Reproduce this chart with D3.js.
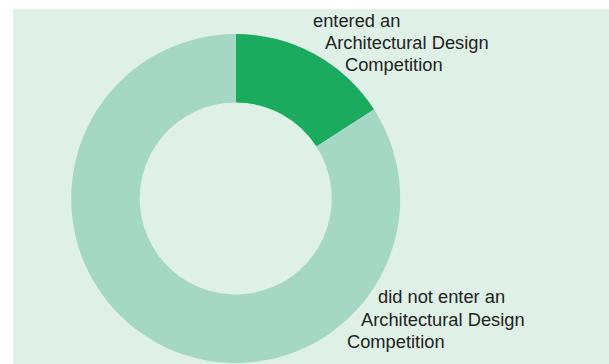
<!DOCTYPE html>
<html><head><meta charset="utf-8">
<script src="https://cdn.jsdelivr.net/npm/d3@7"></script>
<style>html,body{margin:0;padding:0;background:#fff;}svg{display:block;}</style>
</head><body>
<svg id="c" width="609" height="364"></svg>
<script>
const categories = ["entered an Architectural Design Competition", "did not enter an Architectural Design Competition"];
const values = [15.9, 84.1];
const colors = ["#1aab5f", "#a5d8c4"];
const labelLines = [
  ["entered an", "Architectural Design", "Competition"],
  ["did not enter an", "Architectural Design", "Competition"]
];

const svg = d3.select("#c");
svg.append("rect").attr("x", 13).attr("y", 9).attr("width", 596).attr("height", 355).attr("fill", "#dff1e7");

const cx = 235.7, cy = 198.5, outerR = 164.5, innerR = 96;
const pie = d3.pie().sort(null).value(d => d)(values);
const arc = d3.arc().innerRadius(innerR).outerRadius(outerR);
const g = svg.append("g").attr("transform", `translate(${cx},${cy})`);
g.selectAll("path").data(pie).join("path").attr("d", arc).attr("fill", (d, i) => colors[i]);

// labels
const labelPos = [
  {xs: [313, 325, 345], ys: [27, 49, 71]},
  {xs: [378, 361, 347], ys: [303, 326, 348]}
];
labelLines.forEach((lines, i) => {
  lines.forEach((t, j) => {
    svg.append("text").attr("x", labelPos[i].xs[j]).attr("y", labelPos[i].ys[j])
      .attr("font-family", "Liberation Sans, Arial, sans-serif").attr("font-size", 18.3)
      .attr("fill", "#222").text(t);
  });
});
</script>
</body></html>
